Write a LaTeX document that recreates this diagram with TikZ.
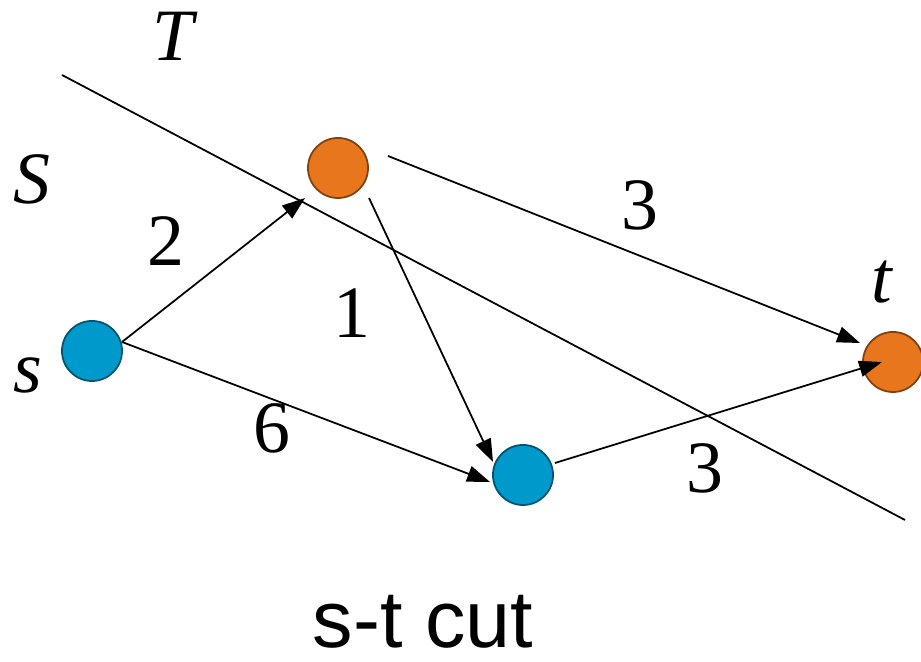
\documentclass[tikz,border=0pt]{standalone}
\usepackage{fontspec}
\setmainfont{Liberation Serif}
\setsansfont{Liberation Sans}
\usepackage{xcolor}
\definecolor{colSrc}{RGB}{0,153,204}
\definecolor{colSnk}{RGB}{232,118,28}
\usetikzlibrary{arrows.meta, calc}

\begin{document}
\begin{tikzpicture}[x=0.01cm, y=-0.01cm,
		vtx/.style={circle, minimum size=0.6cm, inner sep=0pt, line width=0.5pt},
		vtxS/.style={vtx, fill=colSrc, draw=colSrc!55!black},
		vtxT/.style={vtx, fill=colSnk, draw=colSnk!55!black},
		flow/.style={-{Triangle[length=6.5pt, width=4.6pt]}, line width=0.5pt},
		lbl/.style={font=\fontsize{21}{25}\selectfont, inner sep=0pt}]
	\useasboundingbox (0,0) rectangle (921,662);
	% the cut
	\coordinate (cutA) at (62,75);
	\coordinate (cutB) at (905,520);
	\draw[line width=0.5pt] (cutA) -- (cutB);
	% vertices
	\node[vtxS] (s) at (92,351) {};
	\node[vtxT] (a) at (338,168) {};
	\node[vtxS] (b) at (523,475) {};
	\node[vtxT] (t) at (893,362) {};
	% edges
	\draw[flow] ($(s)+(30,-9)$) -- ($(a)+(-33,30)$);
	\draw[flow] ($(s)+(30,-9)$) -- ($(b)+(-33,7)$);
	\draw[flow] ($(a)+(31,30)$) -- ($(b)+(-30,-13)$);
	\draw[flow] ($(a)+(50,-12)$) -- ($(t)+(-33,-19)$);
	\draw[flow] ($(b)+(32,-12)$) -- ($(t)+(-11,0)$);
	% labels
	\node[lbl] (lT) at (175,36) {\textit{T}};
	\node[lbl] (lS) at (32,179) {\textit{S}};
	\node[lbl] (ls) at (28,375) {\textit{s}};
	\node[lbl] (lt) at (882,282) {\textit{t}};
	\node[lbl] (c2) at (166,241) {2};
	\node[lbl] (c1) at (352,313) {1};
	\node[lbl] (c6) at (272,428) {6};
	\node[lbl] (c3a) at (640,205) {3};
	\node[lbl] (c3b) at (705,468) {3};
	\node[font=\sffamily\fontsize{23}{27}\selectfont, inner sep=0pt, anchor=base] (cap) at (423,648) {s-t cut};
\end{tikzpicture}
\end{document}
